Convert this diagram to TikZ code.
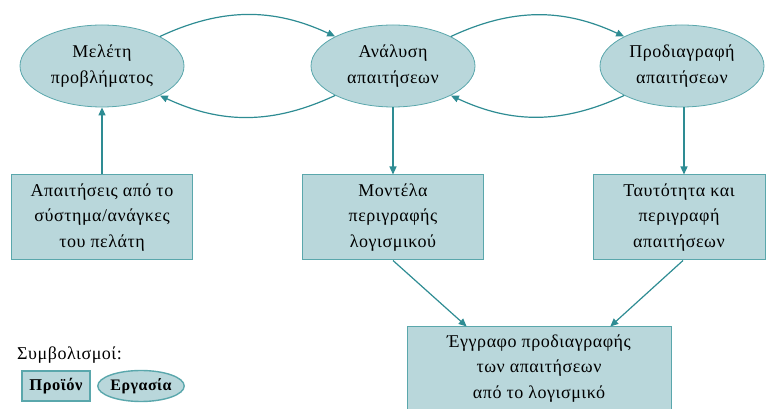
\documentclass[tikz,border=0pt]{standalone}
\usepackage{fontspec}
\setmainfont[LetterSpace=3]{Liberation Serif}
\usetikzlibrary{shapes.geometric,arrows.meta,calc}
\definecolor{tfill}{HTML}{B9D7DB}
\definecolor{tline}{HTML}{5AA7AC}
\definecolor{tarrow}{HTML}{2E8C93}
\begin{document}
\begin{tikzpicture}[x=1pt,y=1pt,
  txt/.style={font=\fontsize{18}{25.5}\selectfont, align=center},
  task/.style={txt, ellipse, fill=tfill, draw=tline, line width=0.8pt, minimum width=164pt, minimum height=82pt, inner sep=0pt, execute at begin node={\rule{0pt}{20pt}}},
  prod/.style={txt, rectangle, fill=tfill, draw=tline, line width=1pt, minimum width=181pt, minimum height=85pt, inner sep=0pt, execute at begin node={\rule{0pt}{22pt}}},
  conn/.style={draw=tarrow, line width=1.2pt, -{Triangle[length=8pt,width=7pt]}}]
\useasboundingbox (0,0) rectangle (766,409);
% tasks
\node[task] (e1) at (102,343) {Μελέτη\\προβλήματος};
\node[task] (e2) at (393,343) {Ανάλυση\\απαιτήσεων};
\node[task] (e3) at (682,343) {Προδιαγραφή\\απαιτήσεων};
% products
\node[prod] (b1) at (102,191.5) {Απαιτήσεις από το\\σύστημα/ανάγκες\\του πελάτη};
\node[prod] (b2) at (393,191.5) {Μοντέλα\\περιγραφής\\λογισμικού};
\node[prod, minimum width=172pt] (b3) at (679,191.5) {Ταυτότητα και\\περιγραφή\\απαιτήσεων};
\node[prod, minimum width=264pt, minimum height=83pt] (b4) at (539,40.5) {Έγγραφο προδιαγραφής\\των απαιτήσεων\\από το λογισμικό};
% legend
\node[txt, anchor=west, inner sep=0pt] (leg) at (17,54) {Συμβολισμοί:};
\node[txt, font=\fontsize{16.5}{20}\selectfont\bfseries, rectangle, fill=tfill, draw=tline, line width=1.4pt, minimum width=68pt, minimum height=30pt, inner sep=0pt] (lp) at (56,23) {Προϊόν};
\node[txt, font=\fontsize{16}{18}\selectfont\bfseries, ellipse, fill=tfill, draw=tline, line width=1.4pt, minimum width=72pt, minimum height=31pt, inner sep=0pt] (le) at (141,23) {Εργασία};
% connectors
\draw[conn] (e1.27) to[out=25,in=155] (e2.153);
\draw[conn] (e2.207) to[out=205,in=335] (e1.333);
\draw[conn] (e2.27) to[out=25,in=155] (e3.153);
\draw[conn] (e3.207) to[out=205,in=335] (e2.333);
\draw[conn] (b1.north) -- (e1.south);
\draw[conn] (e2.south) -- (b2.north);
\coordinate (s3) at ($(e3.south)+(2,0)$);
\coordinate (n3) at ($(b3.north)+(5,0)$);
\draw[conn] (s3) -- (n3);
\coordinate (t1) at ($(b4.north west)!0.227!(b4.north east)$);
\coordinate (t2) at ($(b4.north east)!0.231!(b4.north west)$);
\coordinate (u3) at ($(b3.south)+(4,0)$);
\draw[conn] (b2.south) -- (t1);
\draw[conn] (u3) -- (t2);
\end{tikzpicture}
\end{document}
